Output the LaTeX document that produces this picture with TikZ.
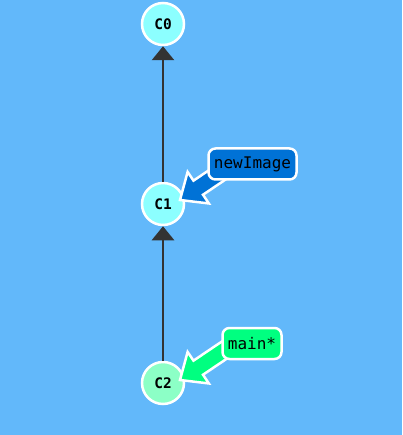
\documentclass[tikz,border=0pt]{standalone}
\usepackage{fontspec}
\setmonofont{DejaVu Sans Mono}
\usetikzlibrary{arrows.meta,calc}
\definecolor{bg}{HTML}{62B8FA}
\definecolor{commitc}{HTML}{8CFFFF}
\definecolor{commitm}{HTML}{8CFFC6}
\definecolor{brblue}{HTML}{0072D6}
\definecolor{brgreen}{HTML}{00FF80}
\definecolor{edge}{HTML}{333333}
\tikzset{
  commit/.style={circle, draw=white, line width=2.5pt, minimum size=42pt, inner sep=0pt, font=\ttfamily\bfseries\fontsize{14.5}{14.5}\selectfont},
  branch/.style={draw=white, line width=2.5pt, rounded corners=7pt, minimum height=31pt, inner sep=5pt, font=\ttfamily\fontsize{16}{16}\selectfont},
  parent/.style={draw=edge, line width=2.8pt, -{Triangle[length=14pt,width=22pt]}},
  blockarrow/.style={draw=white, line width=2.5pt, line join=miter}
}
\begin{document}
\begin{tikzpicture}[x=1pt,y=-1pt]
\fill[bg] (0,0) rectangle (402,435);
\useasboundingbox (0,0) rectangle (402,435);
\node[commit, fill=commitc] (c0) at (163,24) {C0};
\node[commit, fill=commitc] (c1) at (163,204) {C1};
\node[commit, fill=commitm] (c2) at (163,383) {C2};
\draw[parent] (c1) -- (c0);
\draw[parent] (c2) -- (c1);
% block arrows
\begin{scope}[shift={($(c1.center)+(17,-4)$)}, rotate=34]
  \filldraw[blockarrow, fill=brblue] (0,0) -- (22,19) -- (22,8.5) -- (60,8.5) -- (60,-8.5) -- (22,-8.5) -- (22,-19) -- cycle;
\end{scope}
\begin{scope}[shift={($(c2.center)+(17,-3)$)}, rotate=34]
  \filldraw[blockarrow, fill=brgreen] (0,0) -- (22,19) -- (22,8.5) -- (60,8.5) -- (60,-8.5) -- (22,-8.5) -- (22,-19) -- cycle;
\end{scope}
\node[branch, fill=brblue, minimum width=88pt] (b1) at (252.5,164) {newImage};
\node[branch, fill=brgreen, minimum width=59pt] (b2) at (252,343.5) {main*};
\end{tikzpicture}
\end{document}
